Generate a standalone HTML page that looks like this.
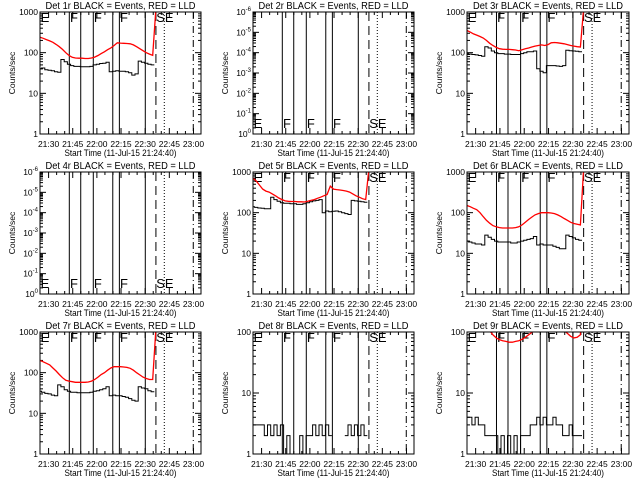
<!DOCTYPE html>
<html><head><meta charset="utf-8"><style>
html,body{margin:0;padding:0;background:#fff;}
svg{display:block;font-family:"Liberation Sans",sans-serif;}
</style></head><body>
<svg id="chart" width="640" height="480" viewBox="0 0 640 480" xmlns="http://www.w3.org/2000/svg">
<rect x="0" y="0" width="640" height="480" fill="#fff"/>
</svg>
<script>
// time grid: minutes since 21:24:40
const times = [0,2,4,6,8,10,12,14,16,18,20,22,24,26,28,30,32,34,36,38,40,42,44,46,48,50,52,54,56,58,60,62,64,66,68,70,72];
const xTickLabels = ["21:30","21:45","22:00","22:15","22:30","22:45","23:00"];
const xTickMinutes = [5.33,20.33,35.33,50.33,65.33,80.33,95.33];
const solidLines = [18.2,25.3,33.1,45.2,49.3,65.4];
const dashedLine = [72];
const dottedLine = [77.2];
const dashDotLine = [95.2];
const eventLabels = ["E","F","F","F","SE"];
const eventLabelMinutes = [0.4,18.6,33.5,49.7,72.2];

const red1 = [240,225,210,195,180,160,140,120,100,85,77,74,73,73,72,72,74,78,85,95,105,118,130,150,175,172,170,168,165,155,140,125,112,100,92,86,1200];
const black1 = [40,42,38,37,36,34,33,68,60,52,48,46,46,45,45,45,46,50,52,54,55,58,34,35,36,35,35,34,32,28,30,62,58,55,52,50,null];
const red3 = [350,320,290,270,250,230,200,170,150,135,125,122,120,120,118,116,112,118,125,130,138,145,150,155,150,158,175,178,175,170,165,158,150,145,140,138,1200];
const black3 = [95,92,90,88,85,82,140,130,110,100,95,95,92,92,90,90,90,95,100,105,105,110,40,35,32,48,48,48,47,46,48,115,112,110,108,105,null];
const red5 = [700,600,480,380,340,320,290,260,230,210,195,190,188,188,185,185,183,190,200,210,225,240,260,280,450,380,370,360,350,340,320,290,260,240,220,210,1200];
const black5 = [140,135,130,128,125,125,240,210,190,175,170,170,165,165,160,160,165,175,185,195,200,210,100,110,105,108,110,105,100,95,90,200,195,190,185,180,null];
const red6 = [150,140,128,118,100,80,65,55,48,45,43,42,42,42,42,43,45,50,58,68,78,88,95,100,100,100,98,95,88,80,72,65,58,54,52,50,1200];
const black6 = [20,19,18,17,17,16,28,25,22,20,19,19,19,19,18,18,19,20,21,22,23,26,16,17,16,16,16,15,14,13,13,28,26,24,22,21,null];
const red7 = [200,185,170,155,130,110,90,75,65,62,60,58,58,58,58,59,62,68,78,90,100,115,130,140,140,140,138,135,128,115,100,88,78,72,68,68,1200];
const black7 = [35,33,31,30,28,27,50,45,38,35,33,33,32,32,32,32,33,35,36,38,40,45,27,28,27,27,26,25,23,21,20,45,42,40,36,34,null];
const black8 = [3,3,3,3,2,3,2,3,2,3,1,2,1,1,1,2,1,2,2,3,2,3,2,3,2,null,null,null,null,2,3,2,3,2,3,2,null];
const red9 = [250,230,210,190,170,150,130,105,90,80,75,72,70,68,68,70,72,76,82,90,98,108,120,130,140,140,138,135,130,118,105,95,85,80,82,90,1200];
const black9 = [4,4,3,4,3,3,2,2,2,2,1,2,1,2,1,2,1,2,2,2,3,3,4,3,4,3,3,4,3,3,2,2,3,2,2,2,null];

const panels = [
 {id:1,col:0,row:0,lo:0,hi:3,top:true,red:red1,black:black1},
 {id:2,col:1,row:0,lo:-6,hi:0,top:false,red:null,black:null},
 {id:3,col:2,row:0,lo:0,hi:3,top:true,red:red3,black:black3},
 {id:4,col:0,row:1,lo:-6,hi:0,top:false,red:null,black:null},
 {id:5,col:1,row:1,lo:0,hi:3,top:true,red:red5,black:black5},
 {id:6,col:2,row:1,lo:0,hi:3,top:true,red:red6,black:black6},
 {id:7,col:0,row:2,lo:0,hi:3,top:true,red:red7,black:black7},
 {id:8,col:1,row:2,lo:0,hi:2,top:true,red:null,black:black8},
 {id:9,col:2,row:2,lo:0,hi:2,top:true,red:red9,black:black9}
];
const NS="http://www.w3.org/2000/svg";
const svg=document.getElementById('chart');
function mk(tag,attrs,parent){const e=document.createElementNS(NS,tag);for(const k in attrs)e.setAttribute(k,attrs[k]);(parent||svg).appendChild(e);return e;}
const colLeft=[40,253,467], colRight=[201,414,629];

panels.forEach(p=>{
  const L=colLeft[p.col], R=colRight[p.col], T=12+p.row*160, B=134+p.row*160;
  const g=mk('g',{});
  
  
  const xs=m=>L+(m/100)*(R-L);
  const ys=v=>B-(Math.log10(v)-(p.hi===0?0:p.lo))/(p.hi-p.lo)*(B-T);
  const cx=(L+R)/2;
  const title=mk('text',{x:cx,y:T-3,'text-anchor':'middle','font-size':'10',textLength:'150',lengthAdjust:'spacingAndGlyphs'},g);
  title.textContent='Det '+p.id+'r BLACK = Events, RED = LLD';
  
  
  // clip
  const cp=mk('clipPath',{id:'clip'+p.id},g);
  mk('rect',{x:L,y:T,width:R-L,height:B-T},cp);
  // x ticks
  for(let m=5.33;m<100;m+=5){
    const major=Math.abs(((m-5.33)/15)-Math.round((m-5.33)/15))<0.01;
    const len=major?6:3;
    mk('line',{x1:xs(m),x2:xs(m),y1:B,y2:B-len,stroke:'#000','stroke-width':1},g);
    mk('line',{x1:xs(m),x2:xs(m),y1:T,y2:T+len,stroke:'#000','stroke-width':1},g);
  }
  xTickLabels.forEach((lab,i)=>{
    const t=mk('text',{x:xs(xTickMinutes[i]),y:B+13,'text-anchor':'middle','font-size':'8.5'},g);
    t.textContent=lab;
    
    
  });
  const xt=mk('text',{x:cx,y:B+22,'text-anchor':'middle','font-size':'9.5',textLength:'112',lengthAdjust:'spacingAndGlyphs'},g);
  xt.textContent='Start Time (11-Jul-15 21:24:40)';
  
  
  const yt=mk('text',{x:0,y:0,'text-anchor':'middle','font-size':'8.5',transform:'translate('+(L-25)+','+((T+B)/2)+') rotate(-90)'},g);
  yt.textContent='Counts/sec';
  
  
  // y ticks
  const nDec=p.hi-p.lo;
  for(let d=0;d<=nDec;d++){
    const y=B-d/nDec*(B-T);
    mk('line',{x1:L,x2:L+6,y1:y,y2:y,stroke:'#000'},g);
    mk('line',{x1:R,x2:R-6,y1:y,y2:y,stroke:'#000'},g);
    const t=mk('text',{x:L-2,y:y+3,'text-anchor':'end','font-size':'8.5'},g);
    if(p.hi===0){
      t.textContent='10';
      const s=mk('tspan',{dy:'-4','font-size':'6'},t);
      s.textContent=String(d===0?0:-d);
    } else {
      t.textContent=String(Math.pow(10,p.lo+d));
    }
    
    
    if(d<nDec){
      for(let k=2;k<=9;k++){
        const yy=y-Math.log10(k)/nDec*(B-T);
        mk('line',{x1:L,x2:L+3,y1:yy,y2:yy,stroke:'#000'},g);
        mk('line',{x1:R,x2:R-3,y1:yy,y2:yy,stroke:'#000'},g);
      }
    }
  }
  // vertical event lines
  solidLines.forEach(m=>mk('line',{x1:xs(m),x2:xs(m),y1:T,y2:B,stroke:'#000'},g));
  dashedLine.forEach(m=>mk('line',{x1:xs(m),x2:xs(m),y1:T,y2:B,stroke:'#000','stroke-dasharray':'9,5'},g));
  dottedLine.forEach(m=>mk('line',{x1:xs(m),x2:xs(m),y1:T,y2:B,stroke:'#000','stroke-dasharray':'1,2'},g));
  dashDotLine.forEach(m=>mk('line',{x1:xs(m),x2:xs(m),y1:T,y2:B,stroke:'#000','stroke-dasharray':'7,3,1,3'},g));
  eventLabels.forEach((lab,i)=>{
    const t=mk('text',{x:xs(eventLabelMinutes[i]),y:p.top?T+10:B-6,'font-size':'13'},g);
    t.textContent=lab;
    
    
  });
  // black series (histogram steps)
  if(p.black){
    let d='',pen=false;
    p.black.forEach((v,i)=>{
      if(v==null){pen=false;return;}
      const x0=xs(Math.max(0,times[i]-1)), x1=xs(times[i]+1), y=ys(v);
      d+=(pen?'L':'M')+x0.toFixed(1)+','+y.toFixed(1)+'L'+x1.toFixed(1)+','+y.toFixed(1);
      pen=true;
    });
    const pth=mk('path',{d:d,fill:'none',stroke:'#000','stroke-width':1,'clip-path':'url(#clip'+p.id+')'},g);
    
    
  }
  if(p.red){
    let d='';
    p.red.forEach((v,i)=>{d+=(i?'L':'M')+xs(times[i]).toFixed(1)+','+ys(v).toFixed(1);});
    const pth=mk('path',{d:d,fill:'none',stroke:'#ff0000','stroke-width':1.3,'clip-path':'url(#clip'+p.id+')'},g);
    
    
  }
  mk('rect',{x:L,y:T,width:R-L,height:B-T,fill:'none',stroke:'#000','stroke-width':1},g);
});
</script>
</body></html>
